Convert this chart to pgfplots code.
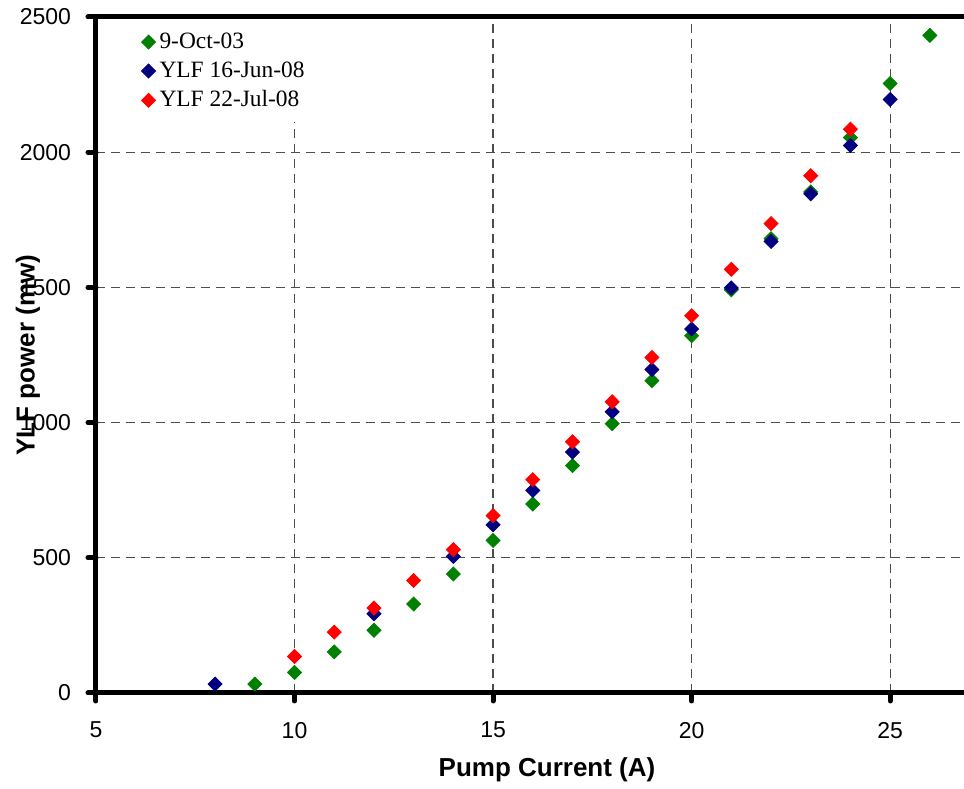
\documentclass[border=0pt]{standalone}
\usepackage{fontspec}
\setmainfont{Liberation Sans}
\newfontfamily\legfont{Liberation Serif}
\usepackage{pgfplots}
\pgfplotsset{compat=1.18}
\definecolor{octgreen}{RGB}{0,128,0}
\definecolor{junnavy}{RGB}{0,0,128}
\definecolor{julred}{RGB}{255,0,0}
\pgfplotsset{
  dot/.style={only marks, mark=diamond*, mark size=3.5pt,
    mark options={xscale=1.333, fill=#1, draw=#1}},
}

\begin{document}
\begin{tikzpicture}
\begin{axis}[
  name=ax,
  scale only axis,
  width=434pt, height=338pt,
  xmin=5, xmax=26.86, ymin=0, ymax=2500,
  axis x line*=box, axis y line*=left,
  axis line style={line width=2.5pt, line cap=round},
  xtick={5,10,15,20,25}, ytick={0,500,1000,1500,2000,2500},
  xtick pos=bottom, ytick pos=left,
  tick align=outside, major tick length=4pt,
  tick style={line width=2.5pt, line cap=round, black},
  grid=major,
  major grid style={line width=0.6pt, gray!60!black, dash pattern=on 4.5pt off 3pt},
  /pgf/number format/assume math mode=true,
  /pgf/number format/set thousands separator={},
  ticklabel style={font=\fontsize{11.5}{13}\selectfont},
  xticklabel style={yshift=-7pt},
  yticklabel style={xshift=-5pt},
  xlabel={Pump Current (A)},
  ylabel={YLF power (mw)},
  every axis x label/.style={at={(axis description cs:0.5196,0)}, yshift=-38.5pt,
    anchor=center, font=\bfseries\fontsize{13}{15}\selectfont},
  every axis y label/.style={at={(axis description cs:0,0.5)}, xshift=-34pt,
    rotate=90, anchor=center, font=\bfseries\fontsize{13}{15}\selectfont},
  legend style={at={(axis description cs:0.0428,0.995)}, anchor=north west,
    draw=none, fill=white, font=\legfont\fontsize{11.7}{14}\selectfont,
    row sep=1.2pt, inner xsep=4pt, inner ysep=4pt},
  legend cell align=left,
  legend image code/.code={\draw[#1] plot coordinates {(0.25cm,0cm)};},
]
\addplot[dot=octgreen] coordinates {
  (9,33) (10,76) (11,152) (12,232) (13,329) (14,440) (15,564) (16,699)
  (17,841) (18,996) (19,1155) (20,1321) (21,1491) (22,1680) (23,1853)
  (24,2054) (25,2254) (26,2432)};
\addplot[dot=junnavy] coordinates {
  (8,33) (12,293) (14,505) (15,622) (16,749)
  (17,891) (18,1040) (19,1196) (20,1346) (21,1498) (22,1670) (23,1846)
  (24,2025) (25,2195)};
\addplot[dot=julred] coordinates {
  (10,135) (11,225) (12,314) (13,416) (14,530) (15,656) (16,789)
  (17,929) (18,1077) (19,1241) (20,1395) (21,1567) (22,1736) (23,1913)
  (24,2085)};
\legend{9-Oct-03, YLF 16-Jun-08, YLF 22-Jul-08}
\end{axis}
\pgfresetboundingbox
\path ([xshift=-48pt, yshift=-48pt]ax.south west) rectangle ([yshift=8.5pt]ax.north east);
\end{tikzpicture}
\end{document}
